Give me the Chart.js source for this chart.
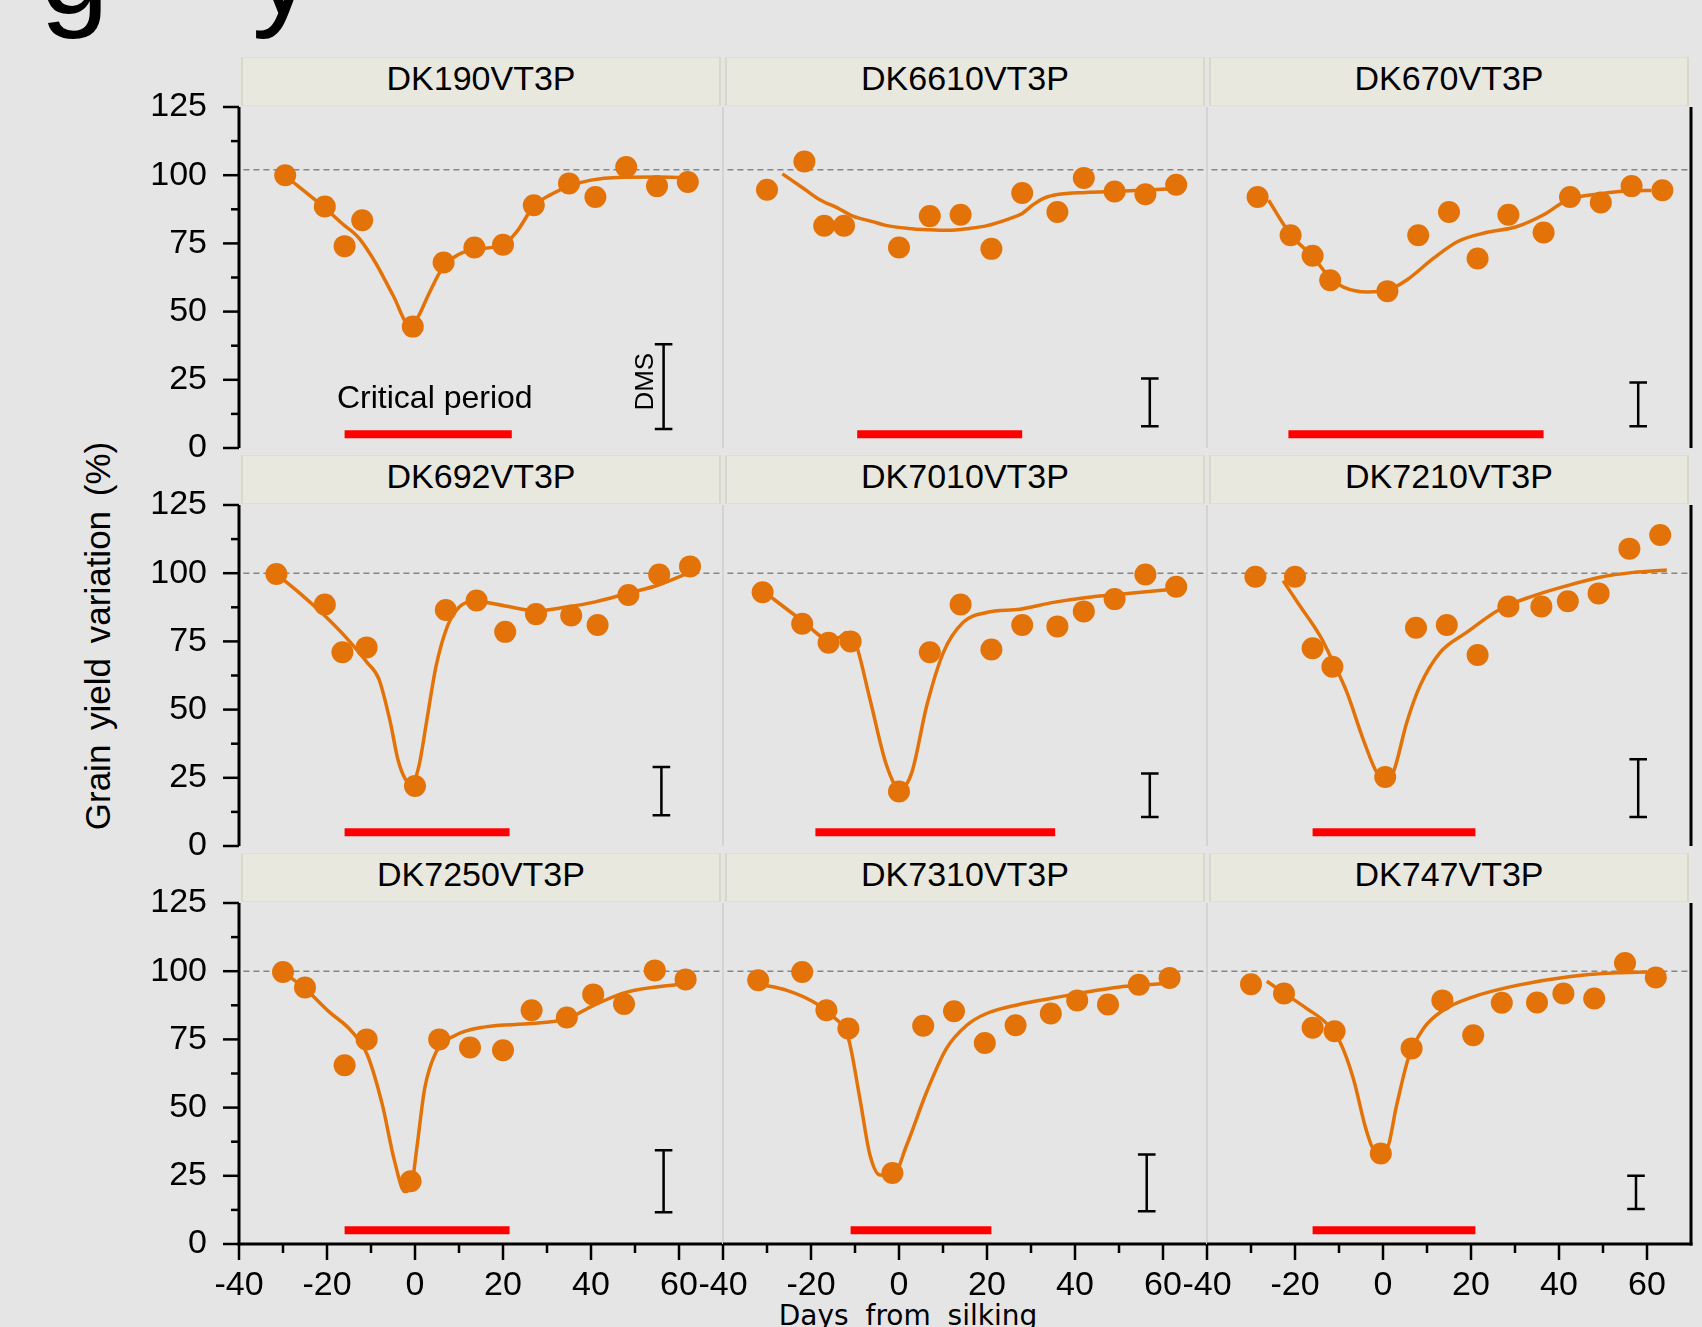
<!DOCTYPE html>
<html>
<head>
<meta charset="utf-8">
<script src="https://cdn.jsdelivr.net/npm/chart.js@4.4.1/dist/chart.umd.min.js"></script>
<style>
  html, body { margin: 0; padding: 0; }
  body {
    width: 1702px; height: 1327px; position: relative; overflow: hidden;
    background: #e5e5e5; color: #000;
    font-family: "Liberation Sans", Arial, sans-serif;
  }
  canvas { position: absolute; }
  .strip {
    position: absolute; height: 49px; box-sizing: border-box;
    background: #e8e8df; border: 1px solid #e0dfd0;
    border-left: 2px solid #d9d8c6; border-right: 2px solid #d9d8c6;
    text-align: center; font-size: 34px; line-height: 40px; white-space: nowrap;
  }
  .ytitle {
    position: absolute; left: 98px; top: 636px; font-size: 35px; white-space: nowrap;
    word-spacing: 5px; transform: translate(-50%, -50%) rotate(-90deg);
  }
  .xtitle {
    position: absolute; left: 908px; top: 1302px; font-family: "DejaVu Sans", Verdana, sans-serif;
    font-size: 28px; line-height: 28px; word-spacing: 8px; white-space: nowrap; transform: translateX(-50%);
  }
  .big { position: absolute; top: -92px; font-size: 124px; line-height: 124px; }
</style>
</head>
<body>
<div class="big" style="left:40px">g</div>
<div class="big" style="left:252px">y</div>
<div class="ytitle">Grain yield variation (%)</div>
<div class="xtitle">Days from silking</div>

<script>
// ---- data ----
const hybrids = ["DK190VT3P", "DK6610VT3P", "DK670VT3P",
                 "DK692VT3P", "DK7010VT3P", "DK7210VT3P",
                 "DK7250VT3P", "DK7310VT3P", "DK747VT3P"];

const obsDays = [
  [-29.5, -20.5, -16, -12, -0.5, 6.5, 13.5, 20, 27, 35, 41, 48, 55, 62],
  [-30, -21.5, -17, -12.5, 0, 7, 14, 21, 28, 36, 42, 49, 56, 63],
  [-28.5, -21, -16, -12, 1, 8, 15, 21.5, 28.5, 36.5, 42.5, 49.5, 56.5, 63.5],
  [-31.5, -20.5, -16.5, -11, 0, 7, 14, 20.5, 27.5, 35.5, 41.5, 48.5, 55.5, 62.5],
  [-31, -22, -16, -11, 0, 7, 14, 21, 28, 36, 42, 49, 56, 63],
  [-29, -20, -16, -11.5, 0.5, 7.5, 14.5, 21.5, 28.5, 36, 42, 49, 56, 63],
  [-30, -25, -16, -11, -1, 5.5, 12.5, 20, 26.5, 34.5, 40.5, 47.5, 54.5, 61.5],
  [-32, -22, -16.5, -11.5, -1.5, 5.5, 12.5, 19.5, 26.5, 34.5, 40.5, 47.5, 54.5, 61.5],
  [-30, -22.5, -16, -11, -0.5, 6.5, 13.5, 20.5, 27, 35, 41, 48, 55, 62]
];
const obsYield = [
  [100, 88.5, 74, 83.5, 44.5, 68, 73.5, 74.5, 89, 97, 92, 103, 96, 97.5],
  [94.7, 105, 81.5, 81.5, 73.5, 85, 85.5, 73, 93.5, 86.5, 99, 94, 93, 96.5],
  [92, 78, 70.5, 61.5, 57.5, 78, 86.5, 69.5, 85.5, 79, 92, 90, 96, 94.5],
  [99.7, 88.5, 71, 72.8, 22, 86.5, 90, 78.5, 85, 84.5, 81, 92, 99.5, 102.5],
  [93, 81.5, 74.5, 75, 20, 71, 88.5, 72, 81, 80.5, 86, 90.5, 99.5, 95],
  [98.7, 98.7, 72.5, 65.7, 25.3, 80, 81, 70, 87.8, 87.8, 89.7, 92.6, 109, 114],
  [99.7, 94, 65.5, 75, 23, 75, 72, 71, 85.7, 83, 91.5, 88, 100.3, 97],
  [96.7, 99.7, 85.7, 79, 26, 80, 85.3, 73.7, 80.2, 84.5, 89.3, 87.8, 95, 97.5],
  [95.2, 91.8, 79.3, 78, 33.2, 71.7, 89.3, 76.5, 88.4, 88.5, 91.8, 90, 103, 97.7]
];

// fitted response curves (sampled from the drawn lines)
const fitDays = [
  [-29.5, -20.5, -16, -14, -12.5, -9, -5, -1, 1, 3, 6.5, 10, 13.5, 20, 23, 27, 31, 35, 40, 46, 55, 62],
  [-26.5, -22, -18, -14, -10.5, -6, -3, 2, 7, 11, 16, 20, 25, 28, 30.5, 33, 36, 42.5, 50, 61],
  [-26, -21, -16, -12, -9, -3.5, 1, 5.5, 11.5, 17, 23, 30.5, 36.5, 42, 49.5, 56, 61],
  [-31.5, -25.5, -20.5, -16, -11, -8.2, -5.6, -3.9, -2.2, -0.8, 0.9, 2.6, 4.8, 7.4, 10, 13.5, 20.5, 27.5, 34, 41, 48.5, 55, 62.5],
  [-31, -22, -16, -13.5, -12, -10, -6.6, -2.8, 0.2, 2.9, 6.3, 10.1, 14.6, 19.9, 27.5, 35.1, 42.7, 50.2, 61],
  [-22.7, -18.9, -14.3, -11.3, -8.2, -4.5, -1.4, 0.4, 2.3, 5.4, 8.4, 13, 19, 26.6, 34.2, 41.8, 49.3, 56.9, 64.5],
  [-30, -25, -19.5, -14.3, -10.8, -7.4, -4.8, -2.3, -0.8, 0.5, 2.2, 4.8, 9.2, 16, 26.5, 34.6, 40.6, 48.3, 61.5],
  [-31.8, -25.5, -19.5, -14.9, -11.5, -8.9, -6.6, -4.3, -1.3, 1.75, 6.3, 10.8, 15.4, 19.9, 27.5, 35.1, 42.7, 50.2, 54.4, 60.8],
  [-26.4, -22.7, -17.3, -12.8, -9.8, -6.75, -3.7, -1.8, 0.8, 3.1, 5.75, 9.2, 13.7, 20.5, 30.4, 41.8, 53.1, 60]
];
const fitYield = [
  [99.8, 88, 81.5, 79, 76.5, 68, 56, 44.5, 49, 56, 66.6, 71, 72.8, 74.5, 79, 88.6, 93, 96, 98.2, 99.2, 99.3, 99],
  [100.5, 95.5, 91, 88, 85, 83, 81.6, 80.5, 80, 79.8, 80.5, 81.5, 84, 86, 89.2, 91.6, 92.9, 93.7, 94.1, 94.9],
  [90.8, 78.2, 70.2, 62.3, 59, 57.2, 57.8, 61.7, 69.6, 75.7, 78.8, 81.2, 85.5, 91, 93.2, 94.3, 94.4],
  [99.7, 91.7, 84.4, 77, 67.5, 61.2, 45.3, 31.8, 24.5, 22.6, 29.4, 45.3, 66, 80.7, 87.5, 89.7, 88, 86.2, 87.5, 89.5, 92.7, 95.5, 100.3],
  [93.6, 82.6, 75.8, 76.5, 78.3, 75, 53.8, 29.4, 20.8, 26.9, 51.4, 71, 82, 85.6, 86.8, 89.3, 91.1, 92.3, 93.9],
  [97.2, 88.1, 77, 67.3, 56.3, 39.1, 26.9, 24.5, 26.9, 45.3, 58.7, 71, 78.3, 86.8, 91.7, 95.4, 98.5, 100.3, 101.2],
  [99.7, 93.6, 85.1, 77.8, 69.2, 50.9, 31.4, 19.2, 21.6, 36.3, 57, 70.4, 76.5, 79.6, 80.8, 82.6, 87.5, 92.4, 95.5],
  [95.2, 93, 88.8, 83.3, 75.3, 53.4, 32.6, 25.3, 25.3, 36.3, 55.8, 71.7, 80.2, 84.5, 87.9, 90.2, 92.4, 94.2, 94.8, 95.5],
  [96.3, 92.2, 86.3, 80.8, 74.1, 60.7, 41.2, 34.4, 35, 50.9, 68, 79, 85.7, 90.6, 94.8, 97.9, 99.4, 99.7]
];

// critical period (days from silking), drawn as red bars
const criticalStart = [-16, -9.5, -21.5, -16, -19, -16, -16, -11, -16];
const criticalEnd = [22, 28, 36.5, 21.5, 35.5, 21, 21.5, 21, 21];
const criticalLevel = 5;

// DMS bars
const dmsDay = [56.5, 57, 58, 56, 57, 58, 56.5, 56.3, 57.5];
const dmsLow = [7, 8, 8, 11.3, 10.6, 10.6, 11.6, 12, 12.8];
const dmsHigh = [38, 25.5, 24, 29, 26.6, 31.8, 34.4, 32.8, 25];

// dashed reference level per row
const refLevel = [102, 100, 100];

// ticks
const xTickValues = [-40, -20, 0, 20, 40, 60];
const xMinorValues = [-30, -10, 10, 30, 50];
const yTickValues = [0, 25, 50, 75, 100, 125];
const yMinorValues = [12.5, 37.5, 62.5, 87.5, 112.5];

// ---- layout ----
const COL_X = [239, 723, 1207];
const ROW_Y = [107, 505, 903];
const PANEL_W = 484, PANEL_H = 341;
const PAD_L = 140, PAD_R = 40, PAD_T = 30, PAD_B = 80;
const ORANGE = "#e37308";
const FONT = '"Liberation Sans", Arial, sans-serif';

Chart.defaults.font.family = FONT;
Chart.defaults.color = "#000";

const panelDecor = {
  id: "panelDecor",
  beforeDatasetsDraw(chart, args, opts) {
    const { ctx, chartArea: a } = chart;
    if (opts.col > 0) {
      ctx.save();
      ctx.strokeStyle = "#d3d3d3";
      ctx.lineWidth = 2;
      ctx.beginPath();
      ctx.moveTo(a.left, a.top);
      ctx.lineTo(a.left, a.bottom);
      ctx.stroke();
      ctx.restore();
    }
  },
  afterDatasetsDraw(chart, args, opts) {
    const { ctx, chartArea: a, scales } = chart;
    const xs = scales.x, ys = scales.y;
    const seg = (x1, y1, x2, y2) => { ctx.beginPath(); ctx.moveTo(x1, y1); ctx.lineTo(x2, y2); ctx.stroke(); };
    ctx.save();
    ctx.strokeStyle = "#000";
    ctx.lineCap = "butt";

    if (opts.col === 0) {
      ctx.lineWidth = 3;
      seg(a.left, a.top, a.left, a.bottom + (opts.row === 2 ? 1.5 : 0));
      ctx.lineWidth = 2.5;
      yTickValues.forEach(v => { const p = ys.getPixelForValue(v); seg(a.left - 16, p, a.left, p); });
      yMinorValues.forEach(v => { const p = ys.getPixelForValue(v); seg(a.left - 8, p, a.left, p); });
    }
    if (opts.col === 2) {
      ctx.lineWidth = 3;
      seg(a.right, a.top, a.right, a.bottom + (opts.row === 2 ? 1.5 : 0));
    }
    if (opts.row === 2) {
      ctx.lineWidth = 3;
      seg(a.left - (opts.col === 0 ? 1.5 : 0), a.bottom, a.right + (opts.col === 2 ? 1.5 : 0), a.bottom);
      ctx.lineWidth = 2.5;
      xTickValues.forEach(v => { const p = xs.getPixelForValue(v); seg(p, a.bottom, p, a.bottom + 16); });
      xMinorValues.forEach(v => { const p = xs.getPixelForValue(v); seg(p, a.bottom, p, a.bottom + 9); });
    }

    if (opts.index === 0) {
      ctx.fillStyle = "#000";
      ctx.font = "32px " + FONT;
      ctx.textAlign = "center";
      ctx.textBaseline = "alphabetic";
      ctx.fillText("Critical period", xs.getPixelForValue(4.5), ys.getPixelForValue(14.8));

      ctx.translate(xs.getPixelForValue(52.4), ys.getPixelForValue(24.3));
      ctx.rotate(-Math.PI / 2);
      ctx.font = "26px " + FONT;
      ctx.textBaseline = "middle";
      ctx.fillText("DMS", 0, 0);
    }
    ctx.restore();
  }
};

const body = document.body;

hybrids.forEach((name, i) => {
  const r = Math.floor(i / 3), c = i % 3;

  const strip = document.createElement("div");
  strip.className = "strip";
  strip.style.left = (COL_X[c] + 2) + "px";
  strip.style.top = (ROW_Y[r] - 50) + "px";
  strip.style.width = (PANEL_W - 4) + "px";
  strip.textContent = name;
  body.appendChild(strip);

  const canvas = document.createElement("canvas");
  canvas.width = PAD_L + PANEL_W + PAD_R;
  canvas.height = PAD_T + PANEL_H + PAD_B;
  canvas.style.left = (COL_X[c] - PAD_L) + "px";
  canvas.style.top = (ROW_Y[r] - PAD_T) + "px";
  body.appendChild(canvas);

  const dmsHalf = 2;
  const dmsPts = [
    { x: dmsDay[i] - dmsHalf, y: dmsHigh[i] }, { x: dmsDay[i] + dmsHalf, y: dmsHigh[i] }, { x: dmsDay[i], y: null },
    { x: dmsDay[i], y: dmsHigh[i] }, { x: dmsDay[i], y: dmsLow[i] }, { x: dmsDay[i], y: null },
    { x: dmsDay[i] - dmsHalf, y: dmsLow[i] }, { x: dmsDay[i] + dmsHalf, y: dmsLow[i] }
  ];

  new Chart(canvas, {
    type: "scatter",
    data: {
      datasets: [
        {
          data: obsDays[i].map((d, k) => ({ x: d, y: obsYield[i][k] })),
          pointRadius: 11, pointBackgroundColor: ORANGE, pointBorderWidth: 0, showLine: false
        },
        {
          data: fitDays[i].map((d, k) => ({ x: d, y: fitYield[i][k] })),
          showLine: true, borderColor: ORANGE, borderWidth: 3.5, pointRadius: 0,
          cubicInterpolationMode: "monotone"
        },
        {
          data: [{ x: -39, y: refLevel[r] }, { x: 70, y: refLevel[r] }],
          showLine: true, borderColor: "#858585", borderWidth: 1.5, borderDash: [6, 4], pointRadius: 0
        },
        {
          data: [{ x: criticalStart[i], y: criticalLevel }, { x: criticalEnd[i], y: criticalLevel }],
          showLine: true, borderColor: "#ff0000", borderWidth: 8, borderCapStyle: "butt", pointRadius: 0
        },
        {
          data: dmsPts, showLine: true, spanGaps: false, borderColor: "#000", borderWidth: 2.5, pointRadius: 0
        }
      ]
    },
    options: {
      responsive: false,
      animation: false,
      devicePixelRatio: 1,
      layout: { padding: { top: PAD_T, right: PAD_R, left: 0, bottom: 0 } },
      plugins: {
        legend: { display: false },
        tooltip: { enabled: false },
        panelDecor: { row: r, col: c, index: i }
      },
      scales: {
        x: {
          type: "linear", min: -40, max: 70,
          grid: { display: false, drawTicks: false },
          border: { display: false },
          afterBuildTicks: s => { s.ticks = xTickValues.map(v => ({ value: v })); },
          afterFit: s => { s.height = PAD_B; s.paddingLeft = 0; s.paddingRight = 0; },
          ticks: { display: r === 2, font: { size: 34 }, color: "#000", padding: 21, maxRotation: 0, autoSkip: false }
        },
        y: {
          type: "linear", min: 0, max: 125,
          grid: { display: false, drawTicks: false },
          border: { display: false },
          afterBuildTicks: s => { s.ticks = yTickValues.map(v => ({ value: v })); },
          afterFit: s => { s.width = PAD_L; s.paddingTop = 0; s.paddingBottom = 0; },
          ticks: { display: c === 0, font: { size: 34 }, color: "#000", padding: 32, autoSkip: false }
        }
      }
    },
    plugins: [panelDecor]
  });
});
</script>
</body>
</html>
